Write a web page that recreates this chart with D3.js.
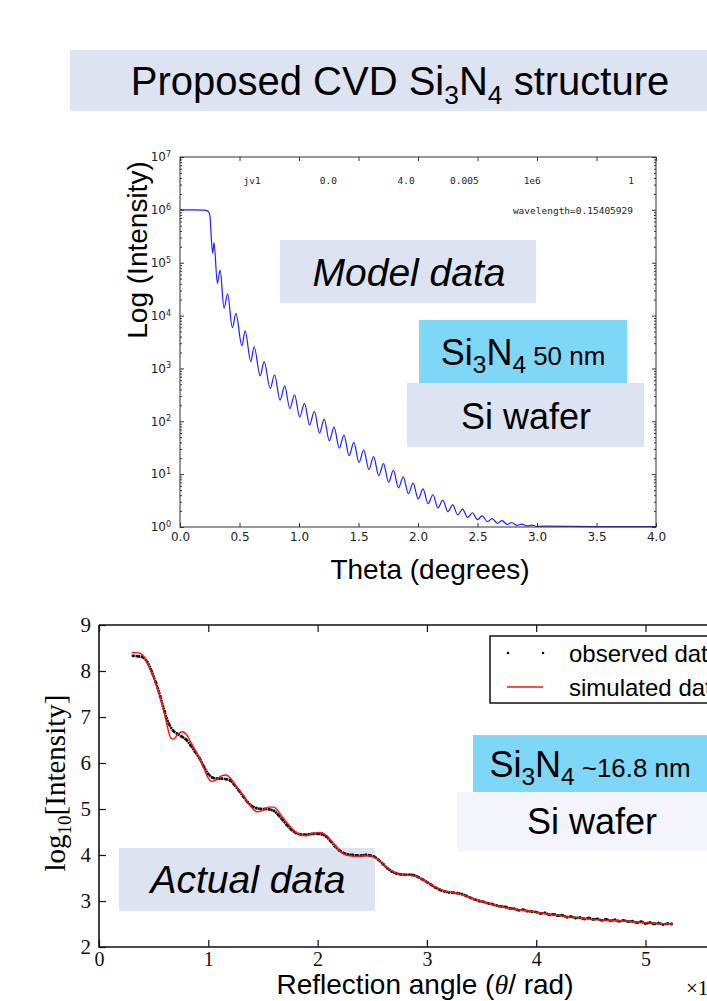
<!DOCTYPE html>
<html><head><meta charset="utf-8">
<script src="https://cdnjs.cloudflare.com/ajax/libs/d3/7.8.5/d3.min.js"></script>
<style>body{margin:0;background:#fff}svg{display:block}</style>
</head><body>
<svg id="c" width="707" height="1001"></svg>
<script>
// ---------- DATA ----------
// Top chart: model reflectivity (theta in degrees, log10 intensity) – read at peaks/troughs
const modelTheta = [0,0.10,0.20,0.225,0.245,0.255,0.262,0.275,0.286,0.314,0.337,0.370,0.400,0.440,0.470,0.520,0.547,0.595,0.623,0.674,0.707,0.758,0.795,0.840,0.880,0.923,0.963,1.006,1.046,1.089,1.129,1.172,1.212,1.255,1.295,1.338,1.378,1.421,1.461,1.504,1.544,1.587,1.627,1.670,1.710,1.753,1.793,1.836,1.876,1.919,1.959,2.002,2.042,2.085,2.125,2.168,2.208,2.251,2.291,2.334,2.374,2.417,2.457,2.500,2.540,2.583,2.623,2.666,2.706,2.749,2.789,2.832,2.872,2.915,2.955,3.000,3.05,3.5,4.0];
const modelLogI  = [6.0,6.0,5.995,5.985,5.95,5.8,5.5,5.18,5.38,4.61,4.86,4.14,4.41,3.77,4.04,3.43,3.71,3.13,3.41,2.86,3.13,2.62,2.88,2.40,2.67,2.24,2.50,2.08,2.34,1.93,2.19,1.78,2.04,1.63,1.89,1.49,1.74,1.35,1.60,1.22,1.46,1.09,1.33,0.97,1.20,0.85,1.07,0.74,0.95,0.63,0.83,0.53,0.72,0.44,0.61,0.36,0.51,0.29,0.42,0.23,0.34,0.18,0.27,0.14,0.21,0.10,0.16,0.07,0.12,0.05,0.085,0.03,0.055,0.02,0.035,0.012,0.015,0.008,0.008];
const topXTicks = [0,0.5,1.0,1.5,2.0,2.5,3.0,3.5,4.0];
const topYExponents = [0,1,2,3,4,5,6,7];
const headerLabels = ["jv1","0.0","4.0","0.005","1e6","1"];

// Bottom chart: observed and simulated data (angle in 1e-2 rad, log10 intensity)
const obsAngle = [0.31,0.36,0.40,0.44,0.48,0.52,0.56,0.60,0.64,0.68,0.72,0.76,0.80,0.84,0.88,0.92,0.96,1.00,1.04,1.08,1.12,1.16,1.20,1.24,1.28,1.32,1.36,1.40,1.44,1.48,1.52,1.56,1.60,1.64,1.68,1.72,1.76,1.80,1.84,1.88,1.92,1.96,2.00,2.04,2.08,2.12,2.16,2.20,2.24,2.28,2.32,2.36,2.40,2.44,2.48,2.52,2.56,2.60,2.64,2.68,2.72,2.76,2.80,2.84,2.88,2.92,2.96,3.00,3.04,3.08,3.12,3.16,3.20,3.24,3.28,3.32,3.36,3.40,3.44,3.48,3.52,3.56,3.60,3.64,3.68,3.72,3.76,3.80,3.84,3.88,3.92,3.96,4.00,4.04,4.08,4.12,4.16,4.20,4.24,4.28,4.32,4.36,4.40,4.44,4.48,4.52,4.56,4.60,4.64,4.68,4.72,4.76,4.80,4.84,4.88,4.92,4.96,5.00,5.04,5.08,5.12,5.16,5.20,5.24];
const obsLogI  = [8.33,8.32,8.30,8.20,8.00,7.75,7.45,7.12,6.85,6.70,6.63,6.57,6.50,6.38,6.24,6.10,5.92,5.76,5.68,5.66,5.66,5.65,5.62,5.52,5.40,5.27,5.15,5.06,5.02,5.00,5.00,4.99,4.96,4.87,4.76,4.65,4.55,4.48,4.45,4.44,4.45,4.46,4.46,4.45,4.40,4.30,4.19,4.10,4.04,4.01,4.00,3.99,3.99,4.00,3.99,3.96,3.89,3.80,3.71,3.64,3.60,3.58,3.57,3.57,3.56,3.52,3.47,3.41,3.35,3.29,3.24,3.21,3.19,3.18,3.17,3.15,3.11,3.07,3.03,3.00,2.98,2.95,2.93,2.90,2.88,2.87,2.84,2.83,2.80,2.81,2.78,2.77,2.76,2.73,2.74,2.70,2.71,2.68,2.69,2.65,2.66,2.63,2.64,2.61,2.63,2.60,2.61,2.58,2.60,2.57,2.59,2.56,2.58,2.55,2.56,2.53,2.55,2.51,2.53,2.50,2.52,2.49,2.51,2.50];
const simAngle = [0.30,0.34,0.38,0.42,0.46,0.50,0.54,0.58,0.62,0.655,0.68,0.72,0.76,0.80,0.84,0.88,0.92,0.96,1.00,1.03,1.07,1.12,1.16,1.20,1.24,1.28,1.32,1.36,1.40,1.45,1.50,1.55,1.60,1.64,1.68,1.72,1.76,1.80,1.85,1.90,1.96,2.02,2.06,2.10,2.15,2.20,2.25,2.30,2.36,2.42,2.48,2.53,2.58,2.64,2.70,2.76,2.82,2.88,2.94,3.00,3.08,3.16,3.24,3.32,3.40,3.52,3.67,3.80,3.97,4.12,4.28,4.44,4.58,4.74,4.89,5.05,5.22,5.25];
const simLogI  = [8.40,8.40,8.38,8.28,8.08,7.85,7.58,7.25,6.85,6.55,6.52,6.62,6.68,6.62,6.45,6.28,6.10,5.88,5.67,5.60,5.63,5.72,5.74,5.68,5.55,5.42,5.30,5.15,5.02,4.94,4.97,5.04,5.04,4.95,4.82,4.70,4.59,4.50,4.43,4.42,4.47,4.49,4.46,4.38,4.24,4.10,4.01,3.98,3.97,3.98,3.98,3.94,3.85,3.72,3.63,3.58,3.56,3.55,3.49,3.41,3.30,3.22,3.18,3.14,3.07,2.98,2.88,2.82,2.77,2.71,2.66,2.62,2.59,2.57,2.55,2.52,2.50,2.50];
const botXTicks = [0,1,2,3,4,5];
const botYTicks = [2,3,4,5,6,7,8,9];
const legendLabels = ["observed data","simulated data"];

// ---------- DRAWING ----------
const svg = d3.select("#c");
const SANS = "'Liberation Sans', Arial, sans-serif";
const SERIF = "'Liberation Serif', 'DejaVu Serif', serif";

function box(parent,x,y,w,h,fill){ parent.append("rect").attr("x",x).attr("y",y).attr("width",w).attr("height",h).attr("fill",fill); }
function chem(parent,x,y,size,anchor,parts){
  const t = parent.append("text").attr("x",x).attr("y",y).attr("text-anchor",anchor)
    .attr("font-family",SANS).attr("font-size",size).attr("fill","#000");
  parts.forEach(p=>{ t.append("tspan").attr("font-size",size*p[1]).attr("dy",p[2]).text(p[0]); });
  return t;
}

// Title
box(svg,70,50,637,61,"#dde3f0");
chem(svg,400,95,40,"middle",[["Proposed CVD Si",1,0],["3",0.66,9],["N",1,-9],["4",0.66,9],[" structure",1,-9]]);

// ---- Top chart ----
const tx = d3.scaleLinear().domain([0,4]).range([180,656]);
const ty = d3.scaleLog().domain([1,1e7]).range([527,157]);
const topG = svg.append("g");
const minorY = [];
for(let e=0;e<7;e++) for(let m=2;m<=9;m++) minorY.push(m*Math.pow(10,e));

topG.append("g").attr("transform","translate(0,527)")
  .call(d3.axisBottom(tx).tickValues(topXTicks).tickFormat(d3.format(".1f")).tickSize(-4).tickPadding(5))
  .call(g=>{g.select(".domain").remove(); g.selectAll("text").attr("font-family","'DejaVu Sans'").attr("font-size",12).attr("fill","#222"); g.selectAll("line").attr("stroke","#333");});
topG.append("g").attr("transform","translate(0,157)")
  .call(d3.axisTop(tx).tickValues(topXTicks).tickFormat("").tickSize(-4))
  .call(g=>{g.select(".domain").remove(); g.selectAll("line").attr("stroke","#333");});
const yl = topG.append("g").attr("transform","translate(180,0)")
  .call(d3.axisLeft(ty).tickValues(topYExponents.map(e=>Math.pow(10,e))).tickFormat(d=>"10").tickSize(-4).tickPadding(9))
  .call(g=>{g.select(".domain").remove(); g.selectAll("line").attr("stroke","#333");});
yl.selectAll(".tick text").attr("font-family","'DejaVu Sans'").attr("font-size",12).attr("fill","#222")
  .each(function(d){ d3.select(this).append("tspan").attr("dy","-0.55em").attr("font-size",8).text(Math.round(Math.log10(d))); });
topG.append("g").attr("transform","translate(180,0)")
  .call(d3.axisLeft(ty).tickValues(minorY).tickFormat("").tickSize(-2))
  .call(g=>{g.select(".domain").remove(); g.selectAll("line").attr("stroke","#333");});
topG.append("g").attr("transform","translate(656,0)")
  .call(d3.axisRight(ty).tickValues(topYExponents.map(e=>Math.pow(10,e))).tickFormat("").tickSize(-4))
  .call(g=>{g.select(".domain").remove(); g.selectAll("line").attr("stroke","#333");});
topG.append("g").attr("transform","translate(656,0)")
  .call(d3.axisRight(ty).tickValues(minorY).tickFormat("").tickSize(-2))
  .call(g=>{g.select(".domain").remove(); g.selectAll("line").attr("stroke","#333");});

const modelPts = modelTheta.map((t,i)=>[t, Math.pow(10, modelLogI[i])]);
topG.append("path").datum(modelPts)
  .attr("d", d3.line().x(d=>tx(d[0])).y(d=>ty(d[1])).curve(d3.curveMonotoneX))
  .attr("fill","none").attr("stroke","#1f1fff").attr("stroke-width",1.2);
topG.append("rect").attr("x",180).attr("y",157).attr("width",476).attr("height",370)
  .attr("fill","none").attr("stroke","#333").attr("stroke-width",1);

const headerX = [0.606,1.246,1.90,2.39,2.96,3.79];
headerLabels.forEach((s,i)=>{
  topG.append("text").attr("x",tx(headerX[i])).attr("y",184).attr("text-anchor","middle")
    .attr("font-family","'DejaVu Sans Mono', monospace").attr("font-size",9.5).attr("fill","#222").text(s);
});
topG.append("text").attr("x",633).attr("y",214).attr("text-anchor","end")
  .attr("font-family","'DejaVu Sans Mono', monospace").attr("font-size",9.5).attr("fill","#222").text("wavelength=0.15405929");

svg.append("text").attr("transform","translate(147,250) rotate(-90)").attr("text-anchor","middle")
  .attr("font-family",SANS).attr("font-size",28).text("Log (Intensity)");
svg.append("text").attr("x",430).attr("y",579).attr("text-anchor","middle")
  .attr("font-family",SANS).attr("font-size",28).text("Theta (degrees)");

box(svg,280,240,256,63,"#dde3f0");
svg.append("text").attr("x",409).attr("y",286).attr("text-anchor","middle").attr("font-family",SANS)
  .attr("font-style","italic").attr("font-size",39).text("Model data");
box(svg,419,320,208,63,"#7fd7f7");
chem(svg,523,365,36,"middle",[["Si",1,0],["3",0.68,8],["N",1,-8],["4",0.68,8],[" 50 nm",0.72,-8]]);
box(svg,407,383,237,64,"#dde3f0");
chem(svg,526,429,36,"middle",[["Si wafer",1,0]]);

// ---- Bottom chart ----
const bx = d3.scaleLinear().domain([0,6]).range([99,99+6*109.3]);
const by = d3.scaleLinear().domain([2,9]).range([947,625]);

// "Actual data" label box sits behind the curves
box(svg,119,848,256,63,"#dde3f0");
svg.append("text").attr("x",248).attr("y",893).attr("text-anchor","middle").attr("font-family",SANS)
  .attr("font-style","italic").attr("font-size",39).text("Actual data");

const bot = svg.append("g");
bot.append("g").attr("transform","translate(0,947)")
  .call(d3.axisBottom(bx).tickValues(botXTicks).tickFormat(d3.format("d")).tickSize(-7).tickPadding(5))
  .call(g=>{g.select(".domain").remove(); g.selectAll("text").attr("font-family",SERIF).attr("font-size",20).attr("fill","#111");});
bot.append("g").attr("transform","translate(0,625)")
  .call(d3.axisTop(bx).tickValues(botXTicks).tickFormat("").tickSize(-7))
  .call(g=>g.select(".domain").remove());
bot.append("g").attr("transform","translate(99,0)")
  .call(d3.axisLeft(by).tickValues(botYTicks).tickFormat(d3.format("d")).tickSize(-7).tickPadding(8))
  .call(g=>{g.select(".domain").remove(); g.selectAll("text").attr("font-family",SERIF).attr("font-size",21).attr("fill","#111");});
bot.selectAll(".tick line").attr("stroke","#111").attr("stroke-width",1.2);

const obsPts = obsAngle.map((a,i)=>[a, obsLogI[i]]);
const simPts = simAngle.map((a,i)=>[a, simLogI[i]]);
bot.append("path").datum(obsPts)
  .attr("d", d3.line().x(d=>bx(d[0])).y(d=>by(d[1])).curve(d3.curveCatmullRom))
  .attr("fill","none").attr("stroke","#111").attr("stroke-width",2.6).attr("stroke-dasharray","2,0.6");
bot.append("g").selectAll("circle").data(obsPts).join("circle")
  .attr("cx",d=>bx(d[0])).attr("cy",d=>by(d[1])).attr("r",1.4).attr("fill","#111");
bot.append("path").datum(simPts)
  .attr("d", d3.line().x(d=>bx(d[0])).y(d=>by(d[1])).curve(d3.curveMonotoneX))
  .attr("fill","none").attr("stroke","#ff1010").attr("stroke-width",1.4);

bot.append("path").attr("d",`M99,625V947H707M99,625H707`).attr("fill","none").attr("stroke","#111").attr("stroke-width",1.6);

bot.append("rect").attr("x",490).attr("y",636).attr("width",260).attr("height",67)
  .attr("fill","#fff").attr("stroke","#111").attr("stroke-width",1.5);
[508,543].forEach(x=>bot.append("circle").attr("cx",x).attr("cy",653).attr("r",1.3).attr("fill","#111"));
bot.append("line").attr("x1",507).attr("x2",543).attr("y1",687).attr("y2",687).attr("stroke","#ff1010").attr("stroke-width",1.5);
legendLabels.forEach((s,i)=>bot.append("text").attr("x",569).attr("y",[662,696][i])
  .attr("font-family",SANS).attr("font-size",24).text(s));

svg.append("text").attr("transform","translate(65,783) rotate(-90)").attr("text-anchor","middle")
  .attr("font-family",SERIF).attr("font-size",29)
  .call(t=>{t.append("tspan").text("log"); t.append("tspan").attr("font-size",19).attr("dy",6).text("10"); t.append("tspan").attr("dy",-6).text("[Intensity]");});
svg.append("text").attr("x",425).attr("y",994).attr("text-anchor","middle").attr("font-family",SANS).attr("font-size",28)
  .call(t=>{t.append("tspan").text("Reflection angle ("); t.append("tspan").attr("font-family",SERIF).attr("font-style","italic").text("θ"); t.append("tspan").text("/ rad)");});
svg.append("text").attr("x",686).attr("y",995).attr("font-family",SERIF).attr("font-size",21)
  .call(t=>{t.append("tspan").text("×10"); t.append("tspan").attr("font-size",14).attr("dy",-8).text("−2");});

box(svg,473,735,234,57,"#7fd7f7");
chem(svg,590,777,36,"middle",[["Si",1,0],["3",0.68,8],["N",1,-8],["4",0.68,8],[" ~16.8 nm",0.72,-8]]);
box(svg,457,792,250,59,"#f4f5fc");
chem(svg,592,834,36,"middle",[["Si wafer",1,0]]);
</script>
</body></html>
